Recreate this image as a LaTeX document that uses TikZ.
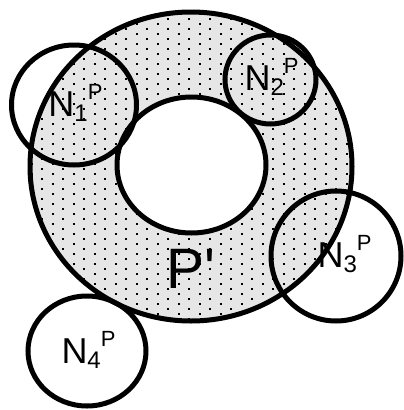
\documentclass[tikz,border=0pt]{standalone}
\usepackage{fontspec}
\setmainfont{Liberation Sans}
\usetikzlibrary{positioning}
\definecolor{ringgray}{HTML}{E6E6E6}
\newcommand{\nlabel}[1]{N\raisebox{-5pt}{\fontsize{24}{24}\selectfont #1}\raisebox{17pt}{\fontsize{22}{22}\selectfont P}}

\begin{document}
\begin{tikzpicture}[x=1pt,y=-1pt,line width=5pt,lbl/.style={anchor=base west,inner sep=0pt,font=\fontsize{36}{36}\selectfont}]
\useasboundingbox (0,0) rectangle (404,410);
% dotted ring
\fill[ringgray] (191,166.5) ellipse [x radius=161,y radius=154.5];
\begin{scope}
\clip (191,166.5) ellipse [x radius=161,y radius=154.5];
\foreach \i in {0,...,34} \foreach \j in {0,...,33} \fill (20+10.5*\i,{8+10*\j+5*mod(\i,2)}) rectangle +(2.4,2.4);
\end{scope}
\fill[white] (191.5,165) ellipse [x radius=74.5,y radius=68];
\draw (191,166.5) ellipse [x radius=161,y radius=154.5];
\draw (191.5,165) ellipse [x radius=74.5,y radius=68];
% neighbourhoods
\draw (74,105) ellipse [x radius=62.5,y radius=60];
\draw (270.5,79.5) ellipse [x radius=45.5,y radius=44.5];
\draw (336,256) ellipse [x radius=65,y radius=65];
\draw (87,351) ellipse [x radius=59,y radius=55];
\node[lbl] (n1) at (46,116) {\nlabel{1}};
\node[lbl] (n2) at (242,90) {\nlabel{2}};
\node[lbl] (n3) at (315,267) {\nlabel{3}};
\node[lbl] (n4) at (59,363) {\nlabel{4}};
\node[lbl,font=\fontsize{57}{57}\selectfont] (pp) at (164,288) {P\textquotesingle};
\end{tikzpicture}
\end{document}
